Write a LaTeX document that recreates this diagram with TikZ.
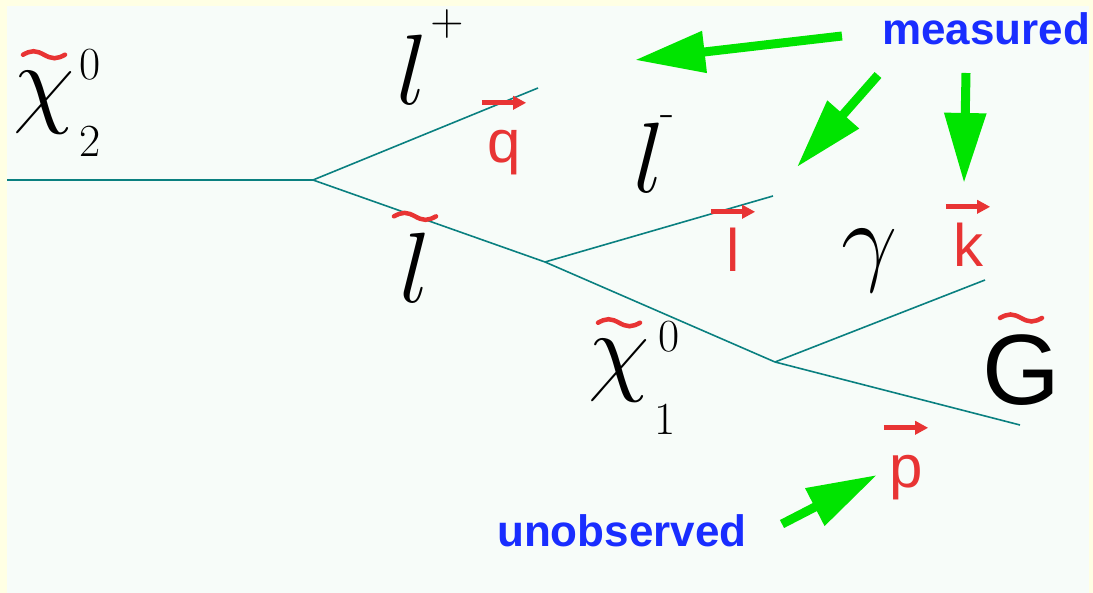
\RequirePackage{fix-cm}
\documentclass[tikz,border=0pt]{standalone}
\usepackage{fontspec}
\newfontfamily\arialfont{Liberation Sans}
\usepackage{tikz}
\usetikzlibrary{arrows.meta}

\definecolor{frameyellow}{RGB}{255,255,228}
\definecolor{paleback}{RGB}{247,252,249}
\definecolor{lineteal}{RGB}{10,128,128}
\definecolor{markgreen}{RGB}{0,228,0}
\definecolor{noteblue}{RGB}{25,45,255}
\definecolor{vecred}{RGB}{232,52,52}

\tikzstyle{prop} = [draw=lineteal, line width=1.6pt]
\tikzstyle{particle} = [inner sep=0pt, anchor=base, font=\fontsize{100}{100}\selectfont]
\tikzstyle{index} = [inner sep=0pt, anchor=base, font=\fontsize{46}{46}\selectfont]
\tikzstyle{momentum} = [
  inner sep=0pt, anchor=base, text=vecred, text height=60pt,
  minimum width=44pt, font=\arialfont\fontsize{60}{60}\selectfont
]
\tikzstyle{vecarrow} = [-{Triangle[length=13pt,width=13pt]}, draw=vecred, line width=5pt]
\tikzstyle{tildeline} = [draw=vecred, line width=4.5pt, line cap=round]
\tikzstyle{pointer} = [-{Triangle[length=70pt,width=40pt]}, draw=markgreen, fill=markgreen, line width=9pt]
\tikzstyle{note} = [inner sep=0pt, anchor=base west, text=noteblue, font=\arialfont\bfseries\fontsize{44}{44}\selectfont]

% red tilde over a particle name
\newcommand{\tildeover}[1]{%
  \draw[tildeline] ([shift={(-21,-17)}]#1.north)
    sin ++(10.5,-3.5) cos ++(10.5,3.5) sin ++(10.5,3.5) cos ++(10.5,-3.5);}

\begin{document}
\begin{tikzpicture}[x=1pt, y=-1pt]

  \useasboundingbox (0,0) rectangle (1093,593);
  \fill[frameyellow] (0,0) rectangle (1093,593);
  \fill[paleback] (7,6) rectangle (1089,593);

  % decay chain
  \coordinate (in) at (7,180);
  \coordinate (v1) at (313,180);
  \coordinate (qend) at (538,88);
  \coordinate (v2) at (545,262);
  \coordinate (lend) at (773,196);
  \coordinate (v3) at (775,362);
  \coordinate (kend) at (985,280);
  \coordinate (pend) at (1020,425);

  \draw[prop] (in) -- (v1);
  \draw[prop] (v1) -- (qend);
  \draw[prop] (v1) -- (v2);
  \draw[prop] (v2) -- (lend);
  \draw[prop] (v2) -- (v3);
  \draw[prop] (v3) -- (kend);
  \draw[prop] (v3) -- (pend);

  % particles
  \node[particle] (chiTwo) at (44,115) {$\chi$};
  \node[index] (chiTwoUp) at (90,80) {0};
  \node[index] (chiTwoDown) at (90,157) {2};
  \node[particle] (lPlus) at (412,105) {$l$};
  \node[index] (lPlusUp) at (447,36) {$+$};
  \node[particle] (lMinus) at (649,193) {$l$};
  \node[index] (lMinusUp) at (667,127) {-};
  \node[particle] (slepton) at (415,303) {$l$};
  \node[particle] (photon) at (870,273) {$\gamma$};
  \node[particle] (chiOne) at (619,383) {$\chi$};
  \node[index] (chiOneUp) at (669,352) {0};
  \node[index] (chiOneDown) at (665,435) {1};
  \node[particle, font=\arialfont\fontsize{100}{100}\selectfont] (gravitino) at (1021,405) {G};

  \foreach \p in {chiTwo, slepton, chiOne, gravitino}
    {\tildeover{\p}}

  % momenta
  \node[momentum] (qVec) at (504,163) {q};
  \node[momentum] (lVec) at (733,272) {l};
  \node[momentum] (kVec) at (968,267) {k};
  \node[momentum] (pVec) at (906,488) {p};
  \foreach \v in {qVec, lVec, kVec, pVec}
    \draw[vecarrow] (\v.north west) -- (\v.north east);

  % notes and pointers
  \node[note] (measured) at (882,45) {measured};
  \node[note] (unobserved) at (497,547) {unobserved};

  \coordinate (tailQ) at (842,36);
  \coordinate (tipQ) at (635,60);
  \coordinate (tailL) at (878,75);
  \coordinate (tipL) at (797,167);
  \coordinate (tailK) at (966,73);
  \coordinate (tipK) at (964,183);
  \coordinate (tailP) at (782,524);
  \coordinate (tipP) at (877,475);

  \draw[pointer] (tailQ) -- (tipQ);
  \draw[pointer] (tailL) -- (tipL);
  \draw[pointer] (tailK) -- (tipK);
  \draw[pointer] (tailP) -- (tipP);

\end{tikzpicture}
\end{document}
